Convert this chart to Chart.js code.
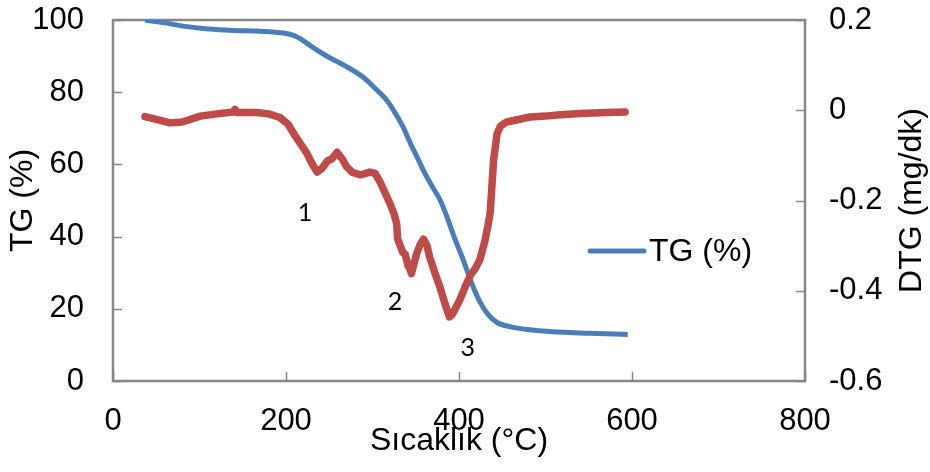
<!DOCTYPE html>
<html>
<head>
<meta charset="utf-8">
<title>TG / DTG</title>
<script src="https://cdn.jsdelivr.net/npm/chart.js@4.4.1/dist/chart.umd.min.js"></script>
<style>
  body { margin: 0; background: #fff; }
  #wrap { width: 930px; height: 472px; }
</style>
</head>
<body>
<div id="wrap"><canvas id="mycanvas" width="930" height="472"></canvas></div>
<script>
// TG curve (% mass) against temperature
var tgTemp = [37, 60, 81, 110, 139, 170, 197, 208, 216, 230, 245, 255, 270, 290, 305, 315, 324, 335, 345, 351,
  360, 370, 378, 386, 395, 405, 414, 424, 434, 444, 460, 482, 505, 550, 595];
var tgValues = [100, 99.2, 98.3, 97.5, 97.1, 96.9, 96.4, 95.8, 94.9, 92.6, 90.3, 89.0, 87.1, 84.0, 80.6, 78.2, 75.1, 70.5, 65.2, 62.3,
  57.8, 53.5, 50.2, 45.5, 39.5, 33.5, 27.5, 22.0, 18.3, 16.2, 15.0, 14.2, 13.7, 13.2, 12.9];

// DTG curve (mg/dk) against temperature
var dtgTemp = [37, 50, 66, 80, 101, 120, 139, 141, 143, 166, 180, 193, 202, 210, 216, 224, 230, 236, 242, 248,
  253, 259, 265, 270, 277, 286, 297, 303, 309, 315, 320, 325, 328, 329, 332, 335, 338, 341, 343, 345,
  348, 351, 355, 359, 363, 366, 372, 378, 384, 389, 393, 401, 407, 413, 419, 424, 430, 434, 436, 438,
  440, 444, 448, 455, 470, 482, 500, 517, 540, 570, 592];
var dtgValues = [-0.014, -0.020, -0.028, -0.026, -0.013, -0.008, -0.004, 0.002, -0.005, -0.005, -0.008, -0.016, -0.030, -0.055, -0.072, -0.095, -0.118, -0.137, -0.128, -0.112,
  -0.108, -0.093, -0.108, -0.125, -0.138, -0.143, -0.137, -0.140, -0.160, -0.185, -0.206, -0.230, -0.252, -0.285, -0.300, -0.315, -0.320, -0.345, -0.350, -0.362,
  -0.340, -0.318, -0.298, -0.286, -0.300, -0.325, -0.360, -0.392, -0.430, -0.458, -0.450, -0.420, -0.392, -0.366, -0.350, -0.332, -0.290, -0.250, -0.228, -0.170,
  -0.110, -0.052, -0.035, -0.026, -0.020, -0.015, -0.013, -0.010, -0.007, -0.005, -0.004];

// axis ticks
var xTicks = [0, 200, 400, 600, 800];
var tgTicks = [0, 20, 40, 60, 80, 100];
var dtgTicks = [-0.6, -0.4, -0.2, 0, 0.2];

// peak labels
var peakNames = ['1', '2', '3'];
var peakTemp = [222, 326, 410];
var peakTG = [46.5, 21.9, 9.1];

function toPoints(xs, ys) {
  var pts = [];
  for (var i in xs) {
    pts.push({x: xs[i], y: ys[i]});
  }
  return pts;
}

var axisGray = '#878787';
var font = 'Liberation Sans, Arial, sans-serif';

// frame + inside tick marks + legend + peak numbers + right title
var decorations = {
  id: 'decorations',
  beforeDatasetsDraw: function(chart) {
    var ctx = chart.ctx;
    var a = chart.chartArea;
    var sx = chart.scales.x, yl = chart.scales.y, yr = chart.scales.y1;
    ctx.save();
    ctx.strokeStyle = axisGray;
    ctx.lineWidth = 1.5;
    xTicks.forEach(function(v) {
      var px = Math.round(sx.getPixelForValue(v)) + 0.5;
      ctx.beginPath(); ctx.moveTo(px, a.bottom); ctx.lineTo(px, a.bottom - 9); ctx.stroke();
    });
    tgTicks.forEach(function(v) {
      var py = Math.round(yl.getPixelForValue(v)) + 0.5;
      ctx.beginPath(); ctx.moveTo(a.left, py); ctx.lineTo(a.left + 9, py); ctx.stroke();
    });
    dtgTicks.forEach(function(v) {
      var py = Math.round(yr.getPixelForValue(v)) + 0.5;
      ctx.beginPath(); ctx.moveTo(a.right, py); ctx.lineTo(a.right - 9, py); ctx.stroke();
    });
    ctx.lineWidth = 2.5;
    ctx.strokeRect(a.left, a.top, a.right - a.left, a.bottom - a.top);

    // right axis title, read bottom to top like the left one
    ctx.fillStyle = '#000';
    ctx.font = '32px ' + font;
    ctx.textAlign = 'center';
    ctx.textBaseline = 'middle';
    ctx.translate(chart.width - 18, (a.top + a.bottom) / 2);
    ctx.rotate(-Math.PI / 2);
    ctx.fillText('DTG (mg/dk)', 0, 0);
    ctx.restore();
  },
  afterDatasetsDraw: function(chart) {
    var ctx = chart.ctx;
    var a = chart.chartArea;
    var sx = chart.scales.x, yl = chart.scales.y;
    var ds = chart.data.datasets[0];
    ctx.save();
    // legend (TG only)
    var lx = a.left + 477, ly = a.top + 231;
    ctx.strokeStyle = ds.borderColor;
    ctx.lineWidth = ds.borderWidth;
    ctx.lineCap = 'round';
    ctx.beginPath(); ctx.moveTo(lx, ly); ctx.lineTo(lx + 54, ly); ctx.stroke();
    ctx.fillStyle = '#000';
    ctx.font = '32px ' + font;
    ctx.textBaseline = 'middle';
    ctx.textAlign = 'left';
    ctx.fillText(ds.label, lx + 59, ly + 1);
    // peak numbers
    ctx.font = '25px Lato, "Noto Sans", sans-serif';
    ctx.textAlign = 'center';
    for (var i in peakNames) {
      ctx.fillText(peakNames[i], sx.getPixelForValue(peakTemp[i]), yl.getPixelForValue(peakTG[i]));
    }
    ctx.restore();
  }
};

var chartdata = {
  datasets: [
    {
      label: 'TG (%)',
      data: toPoints(tgTemp, tgValues),
      yAxisID: 'y',
      borderColor: '#4a7ebb',
      borderWidth: 5,
      pointRadius: 0,
      cubicInterpolationMode: 'monotone',
      order: 2
    },
    {
      label: 'DTG (mg/dk)',
      data: toPoints(dtgTemp, dtgValues),
      yAxisID: 'y1',
      borderColor: '#be4b48',
      borderWidth: 7.5,
      borderJoinStyle: 'round',
      borderCapStyle: 'round',
      pointRadius: 0,
      tension: 0,
      order: 1
    }
  ]
};

var tickFont = {family: font, size: 31};
var titleFont = {family: font, size: 32};

// fixed axis boxes so the plot frame lands where it should
function noPad(s) {
  s.paddingTop = 0; s.paddingBottom = 0; s.paddingLeft = 0; s.paddingRight = 0;
}

var ctx = document.getElementById('mycanvas');
var chart = new Chart(ctx, {
  type: 'line',
  data: chartdata,
  plugins: [decorations],
  options: {
    responsive: false,
    devicePixelRatio: 1,
    animation: false,
    layout: {padding: {top: 20, left: 0, right: 0, bottom: 0}},
    plugins: {
      legend: {display: false},
      tooltip: {enabled: false}
    },
    scales: {
      x: {
        type: 'linear',
        min: 0, max: 800,
        grid: {display: false},
        border: {display: false},
        afterBuildTicks: function(s) { s.ticks = xTicks.map(function(v) { return {value: v}; }); },
        afterFit: function(s) { s.height = 91; noPad(s); },
        ticks: {font: tickFont, color: '#000', padding: 14, maxRotation: 0},
        title: {display: true, text: 'Sıcaklık (°C)', font: titleFont, color: '#000', padding: {top: 0, bottom: 12}}
      },
      y: {
        position: 'left',
        min: 0, max: 100,
        grid: {display: false},
        border: {display: false},
        afterBuildTicks: function(s) { s.ticks = tgTicks.map(function(v) { return {value: v}; }); },
        afterFit: function(s) { s.width = 113; noPad(s); },
        ticks: {font: tickFont, color: '#000', padding: 21},
        title: {display: true, text: 'TG (%)', font: titleFont, color: '#000', padding: {top: 4, bottom: 0}}
      },
      y1: {
        position: 'right',
        min: -0.6, max: 0.2,
        grid: {display: false},
        border: {display: false},
        afterBuildTicks: function(s) { s.ticks = dtgTicks.map(function(v) { return {value: v}; }); },
        afterFit: function(s) { s.width = 125; noPad(s); },
        ticks: {
          font: tickFont, color: '#000', padding: 16,
          callback: function(v) { return Number(v.toFixed(1)).toString(); }
        }
      }
    }
  }
});
</script>
</body>
</html>
